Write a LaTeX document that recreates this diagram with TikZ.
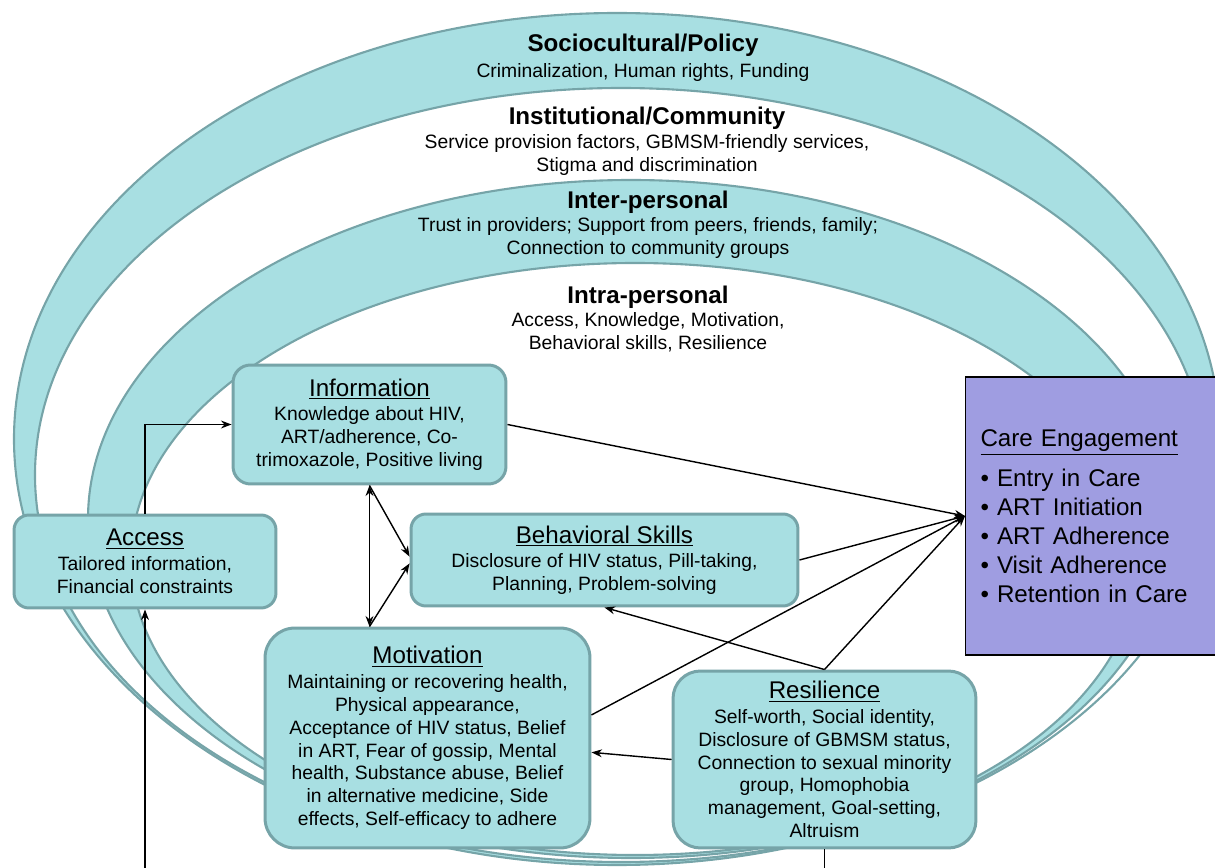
\documentclass[tikz,border=0pt]{standalone}
\usepackage{fontspec}
\setmainfont{Liberation Sans}
\usetikzlibrary{arrows.meta,positioning}

\definecolor{bandfill}{RGB}{168,223,226}
\definecolor{bandline}{RGB}{118,164,168}
\definecolor{carefill}{RGB}{159,157,225}

\newcommand{\boxhead}[1]{{\fontsize{13.75}{16}\selectfont\underline{#1}}}
\newcommand{\layerhead}[1]{{\fontsize{13.75}{16}\selectfont\bfseries #1}}

\tikzset{
  layer/.style={align=center, font=\fontsize{11}{13}\selectfont},
  factor/.style={draw=bandline, line width=1.7pt, fill=bandfill, align=center,
    font=\fontsize{11}{13}\selectfont},
  link/.style={line width=0.8pt, -{Stealth[length=6pt,width=4.5pt]}},
}

\begin{document}
\begin{tikzpicture}[x=0.02cm, y=-0.02cm]
  \useasboundingbox (0,0) rectangle (1215,868);
  \clip (0,0) rectangle (1215,868);

  \foreach \cx/\cy/\rx/\ry/\col in {617/439/603/426/bandfill, 621/475/586/387/white,
      631/519/543/339/bandfill, 635/559/504/296/white}{
    \draw[bandline, line width=1.2pt, fill=\col] (\cx,\cy) ellipse [x radius=\rx, y radius=\ry];
  }

  \node[layer] (socio) at (643,58) {\layerhead{Sociocultural/Policy}\\[2pt]
    Criminalization, Human rights, Funding};
  \node[layer] (inst) at (647,141) {\layerhead{Institutional/Community}\\[1pt]
    Service provision factors, GBMSM-friendly services,\\ Stigma and discrimination};
  \node[layer] (inter) at (648,225) {\layerhead{Inter-personal}\\[0pt]
    Trust in providers; Support from peers, friends, family;\\ Connection to community groups};
  \node[layer] (intra) at (648,319) {\layerhead{Intra-personal}\\[0pt]
    Access, Knowledge, Motivation,\\ Behavioral skills, Resilience};

  \node[factor, rounded corners=0.35cm, minimum width=5.46cm, minimum height=2.38cm]
    (info) at (369.5,424.5) {\boxhead{Information}\\[1pt] Knowledge about HIV,\\
    ART/adherence, Co-\\ trimoxazole, Positive living};
  \node[factor, rounded corners=0.3cm, minimum width=5.24cm, minimum height=1.86cm]
    (access) at (145,561.5) {\boxhead{Access}\\[1pt] Tailored information,\\ Financial constraints};
  \node[factor, rounded corners=0.3cm, minimum width=7.74cm, minimum height=1.84cm]
    (skills) at (604.5,560) {\boxhead{Behavioral Skills}\\[1pt]
    Disclosure of HIV status, Pill-taking,\\ Planning, Problem-solving};
  \node[factor, rounded corners=0.6cm, minimum width=6.5cm, minimum height=4.4cm]
    (motiv) at (427.5,738) {\boxhead{Motivation}\\[1pt] Maintaining or recovering health,\\
    Physical appearance,\\ Acceptance of HIV status, Belief\\ in ART, Fear of gossip, Mental\\
    health, Substance abuse, Belief\\ in alternative medicine, Side\\ effects, Self-efficacy to adhere};
  \node[factor, rounded corners=0.55cm, minimum width=6.06cm, minimum height=3.54cm]
    (resil) at (824.5,759.5) {\boxhead{Resilience}\\[1pt] Self-worth, Social identity,\\
    Disclosure of GBMSM status,\\ Connection to sexual minority\\ group, Homophobia\\
    management, Goal-setting,\\ Altruism};
  \node[draw=black, line width=0.6pt, fill=carefill, anchor=west, align=left,
    minimum height=5.56cm, text width=6cm, inner xsep=0.3cm,
    font=\fontsize{13.75}{16.4}\selectfont] (care) at (965,516)
    {\underline{Care Engagement}\\[6.6pt] • Entry in Care\\ • ART Initiation\\
    • ART Adherence\\ • Visit Adherence\\ • Retention in Care};

  \coordinate (accin) at (145,868);
  \coordinate (resout) at (824.5,868);

  \draw[link] (access.north) |- (info.west);
  \draw[link] (accin) -- (access.south);
  \draw[line width=0.8pt] (resil.south) -- (resout);
  \draw[link, {Stealth[length=6pt,width=4.5pt]}-{Stealth[length=6pt,width=4.5pt]}]
    (info.south) -- (info.south |- motiv.north);
  \draw[link] (info.south) -- (skills.179);
  \draw[link] (info.south |- motiv.north) -- (skills.181);
  \draw[link] (info.east) -- (care.west);
  \draw[link] (skills.east) -- (care.west);
  \draw[link] (motiv.8) -- (care.west);
  \draw[link] (resil.north) -- (care.west);
  \draw[link] (resil.north) -- (skills.south);
  \draw[link] (resil.west) -- (motiv.-5);
\end{tikzpicture}
\end{document}
